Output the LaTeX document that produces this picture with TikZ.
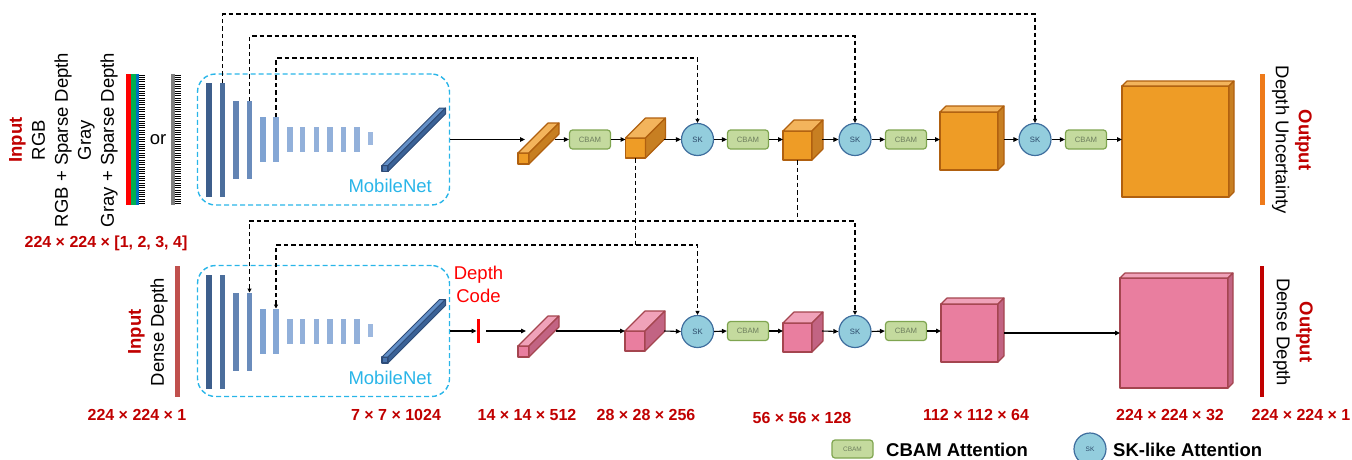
\documentclass[tikz,border=0pt]{standalone}
\usepackage{fontspec}
\setmainfont{Liberation Sans}
\usetikzlibrary{arrows.meta,calc}

\definecolor{orgfront}{HTML}{EE9C26}
\definecolor{orgtop}{HTML}{F3B45C}
\definecolor{orgside}{HTML}{C77F22}
\definecolor{orgline}{HTML}{B0600F}
\definecolor{pnkfront}{HTML}{E97E9F}
\definecolor{pnktop}{HTML}{F0A2B9}
\definecolor{pnkside}{HTML}{C26483}
\definecolor{pnkline}{HTML}{A4454F}
\definecolor{blufront}{HTML}{4A74AD}
\definecolor{blutop}{HTML}{6390C8}
\definecolor{bluside}{HTML}{3B6296}
\definecolor{bluline}{HTML}{2E4C78}
\definecolor{cbamfill}{HTML}{C4DA9E}
\definecolor{cbamline}{HTML}{7FA550}
\definecolor{cbamtext}{HTML}{6E7F5E}
\definecolor{skfill}{HTML}{93CDDD}
\definecolor{skline}{HTML}{3F6E9E}
\definecolor{sktext}{HTML}{2C4A6A}
\definecolor{encblue}{HTML}{29B5E8}
\definecolor{darkred}{HTML}{C00000}
\definecolor{codered}{HTML}{FF0000}
\definecolor{inbar}{HTML}{C0504D}
\definecolor{outorange}{HTML}{EE7A1A}
\definecolor{rgbgreen}{HTML}{00B050}
\definecolor{rgbblue}{HTML}{0070C0}
\definecolor{grayband}{HTML}{808080}
\definecolor{barA}{HTML}{3D5E8C}
\definecolor{barB}{HTML}{4B6E9C}
\definecolor{barC}{HTML}{6384B3}
\definecolor{barD}{HTML}{6A8CBC}
\definecolor{barE}{HTML}{7FA3D2}
\definecolor{barF}{HTML}{85A7D5}
\definecolor{barG}{HTML}{92B0DA}
\definecolor{barH}{HTML}{9DB8DF}

\tikzset{
  fnt/.style={font=\fontsize{#1}{#1}\selectfont},
  facebase/.style={draw, line width=1.1pt, line join=round, inner sep=0pt, outer sep=0pt},
  front org/.style={facebase, fill=orgfront, draw=orgline},
  top org/.style={line width=1.1pt, line join=round, fill=orgtop, draw=orgline},
  side org/.style={line width=1.1pt, line join=round, fill=orgside, draw=orgline},
  front pnk/.style={facebase, fill=pnkfront, draw=pnkline},
  top pnk/.style={line width=1.1pt, line join=round, fill=pnktop, draw=pnkline},
  side pnk/.style={line width=1.1pt, line join=round, fill=pnkside, draw=pnkline},
  front blu/.style={facebase, fill=blufront, draw=bluline},
  top blu/.style={line width=1pt, line join=round, fill=blutop, draw=bluline},
  side blu/.style={line width=1pt, line join=round, fill=bluside, draw=bluline},
  cbam/.style={draw=cbamline, fill=cbamfill, line width=1.2pt, rounded corners=3pt,
    minimum width=41pt, minimum height=19pt, inner sep=0pt, text=cbamtext, fnt=7.7},
  sk/.style={circle, draw=skline, fill=skfill, line width=1.2pt, minimum size=32pt,
    inner sep=0pt, text=sktext, fnt=7.7},
  encbox/.style={draw=encblue, dashed, dash pattern=on 5pt off 3pt, line width=1.4pt,
    rounded corners=18pt, minimum width=252pt, minimum height=131pt, inner sep=0pt},
  encbar/.style={inner sep=0pt, outer sep=0pt},
  flow/.style={draw, line width=1.1pt, -{Triangle[length=5pt,width=4.5pt]}},
  skip/.style={draw, line width=1.1pt, dash pattern=on 4.5pt off 3pt, -{Triangle[length=4pt,width=4pt]}},
  skipline/.style={draw, line width=1.1pt, dash pattern=on 4.5pt off 3pt},
  dimlabel/.style={text=darkred, fnt=16, font=\fontsize{16}{16}\selectfont\bfseries, inner sep=0pt},
  sidetext/.style={align=center, inner sep=0pt, font=\fontsize{18.5}{23}\selectfont},
  legendtext/.style={anchor=west, inner sep=0pt, font=\fontsize{18.5}{18.5}\selectfont\bfseries},
}

% a box seen in perspective: front face node plus top and right faces
\newcommand{\cuboid}[6]{%
  \node[front #6, minimum width=#3pt, minimum height=#4pt] (#1) at (#2) {};
  \filldraw[top #6] (#1.north west) -- ++(#5,-#5) -- ++(#3,0) -- (#1.north east) -- cycle;
  \filldraw[side #6] (#1.north east) -- ++(#5,-#5) -- ++(0,#4) -- (#1.south east) -- cycle;
}

% MobileNet encoder: dashed frame, stack of feature bars and the final prism
\newcommand{\encoder}[2]{%
  \begin{scope}[shift={(0,#2)}]
    \node[encbox] (#1enc) at (323.5,139.5) {};
    \node[encbar, fill=barA, minimum width=6pt, minimum height=114pt] (#1b1) at (209,140) {};
    \node[encbar, fill=barB, minimum width=5pt, minimum height=114pt] (#1b2) at (222.5,140) {};
    \node[encbar, fill=barC, minimum width=5.5pt, minimum height=78pt] (#1b3) at (236,140) {};
    \node[encbar, fill=barD, minimum width=5pt, minimum height=78pt] (#1b4) at (249.5,140) {};
    \node[encbar, fill=barE, minimum width=6pt, minimum height=45pt] (#1b5) at (262.5,139.5) {};
    \node[encbar, fill=barF, minimum width=5.5pt, minimum height=45pt] (#1b6) at (276,139.5) {};
    \node[encbar, fill=barG, minimum width=5.5pt, minimum height=25pt] (#1b7) at (290,139.5) {};
    \node[encbar, fill=barG, minimum width=5.5pt, minimum height=25pt] (#1b8) at (302.5,139.5) {};
    \node[encbar, fill=barG, minimum width=5.5pt, minimum height=25pt] (#1b9) at (316.5,139.5) {};
    \node[encbar, fill=barG, minimum width=5.5pt, minimum height=25pt] (#1b10) at (330,139.5) {};
    \node[encbar, fill=barG, minimum width=5.5pt, minimum height=25pt] (#1b11) at (343.5,139.5) {};
    \node[encbar, fill=barG, minimum width=5.5pt, minimum height=25pt] (#1b12) at (357,139.5) {};
    \node[encbar, fill=barH, minimum width=5pt, minimum height=13pt] (#1b13) at (370.5,138.5) {};
    \cuboid{#1mb}{385,168.5}{6}{6}{57.5}{blu}
    \node[anchor=east, inner sep=0pt, text=encblue, font=\fontsize{18.5}{18.5}\selectfont] (#1mn) at (432,186) {MobileNet};
  \end{scope}
}

\begin{document}
\begin{tikzpicture}[x=1pt, y=-1pt]
\useasboundingbox (0,0) rectangle (1352,459);

% ---------------- inputs ----------------
\node[sidetext, rotate=90] (intop) at (63.5,140)
  {\textcolor{darkred}{\bfseries Input}\\RGB\\RGB + Sparse Depth\\Gray\\Gray + Sparse Depth};
\fill[red] (126,74) rectangle (131,205);
\fill[rgbgreen] (131,74) rectangle (136,205);
\fill[rgbblue] (136,74) rectangle (138.5,205);
\foreach \yy in {75,77.3,...,204} \draw[line width=0.9pt] (138.5,\yy) -- (145,\yy);
\node[inner sep=0pt, font=\fontsize{18.5}{18.5}\selectfont] (ortext) at (158,140) {or};
\fill[grayband] (171,74) rectangle (174.5,205);
\foreach \yy in {75,77.3,...,204} \draw[line width=0.9pt] (174.5,\yy) -- (181,\yy);
\node[dimlabel] (dimin) at (106,243) {224 × 224 × [1, 2, 3, 4]};

\node[sidetext, rotate=90] (inbot) at (148,332)
  {\textcolor{darkred}{\bfseries Input}\\Dense Depth};
\node[fill=inbar, minimum width=5pt, minimum height=131pt, inner sep=0pt] (inbotbar) at (177.5,331.5) {};

% ---------------- encoders ----------------
\encoder{t}{0}
\encoder{b}{191.5}

% ---------------- upper decoder ----------------
\cuboid{p1}{523.5,158.5}{11}{11}{30}{org}
\node[cbam] (cb1) at (590,139.5) {CBAM};
\cuboid{c2}{635.5,148}{20}{20}{20}{org}
\node[sk] (sk1) at (697.5,139.5) {SK};
\node[cbam] (cb2) at (748,139.5) {CBAM};
\cuboid{c3}{797.5,145.5}{29}{29}{11}{org}
\node[sk] (sk2) at (855,139.5) {SK};
\node[cbam] (cb3) at (906,139.5) {CBAM};
\cuboid{c4}{969,141}{58}{58}{6}{org}
\node[sk] (sk3) at (1035,139.5) {SK};
\node[cbam] (cb4) at (1086,139.5) {CBAM};
\cuboid{c5}{1175.5,141.5}{107}{111}{5}{org}

\coordinate (p1in) at (525,139.5);
\coordinate (p1out) at (555,139.5);
\coordinate (c2out) at (664,139.5);
\coordinate (c3out) at (822,139.5);
\coordinate (c4out) at (1004,139.5);
\draw[flow] (tenc.east) -- (p1in);
\draw[flow] (p1out) -- (cb1.west);
\draw[flow] (cb1.east) -- (cb1.east -| c2.west);
\draw[flow] (c2out) -- (sk1.west);
\draw[flow] (sk1.east) -- (cb2.west);
\draw[flow] (cb2.east) -- (cb2.east -| c3.west);
\draw[flow] (c3out) -- (sk2.west);
\draw[flow] (sk2.east) -- (cb3.west);
\draw[flow] (cb3.east) -- (cb3.east -| c4.west);
\draw[flow] (c4out) -- (sk3.west);
\draw[flow] (sk3.east) -- (cb4.west);
\draw[flow] (cb4.east) -- (cb4.east -| c5.west);

\node[fill=outorange, minimum width=5pt, minimum height=131pt, inner sep=0pt] (outtopbar) at (1262.5,139.5) {};
\node[sidetext, rotate=-90] (outtop) at (1292,140)
  {\textcolor{darkred}{\bfseries Output}\\Depth Uncertainty};

% ---------------- lower decoder ----------------
\node[fill=codered, minimum width=3.5pt, minimum height=24pt, inner sep=0pt] (dc) at (478.5,331) {};
\node[align=center, text=codered, inner sep=0pt, font=\fontsize{18.5}{23}\selectfont] (dctext) at (478.5,284.5) {Depth\\Code};
\cuboid{q1}{523.5,351.5}{11}{11}{30}{pnk}
\cuboid{d2}{635,341}{20}{20}{20}{pnk}
\node[sk] (sk4) at (697.5,331.5) {SK};
\node[cbam] (cb5) at (748,331) {CBAM};
\cuboid{d3}{797.5,337.5}{29}{29}{11}{pnk}
\node[sk] (sk5) at (855,331.5) {SK};
\node[cbam] (cb6) at (906,331) {CBAM};
\cuboid{d4}{969.5,333}{57}{58}{6}{pnk}
\cuboid{d5}{1174,333}{108}{110}{5}{pnk}

\coordinate (q1in) at (526,331);
\coordinate (q1out) at (556,331);
\coordinate (d2out) at (664,331);
\coordinate (d3out) at (822,331);
\coordinate (d4out) at (1004,333);
\draw[flow] (benc.east) -- (benc.east -| dc.west);
\draw[flow] (dc.east) ++(6,0) -- (q1in);
\draw[flow] (q1out) -- (q1out -| d2.west);
\draw[flow] (d2out) -- (sk4.west);
\draw[flow] (sk4.east) -- (cb5.west);
\draw[flow] (cb5.east) -- (cb5.east -| d3.west);
\draw[flow] (d3out) -- (sk5.west);
\draw[flow] (sk5.east) -- (cb6.west);
\draw[flow] (cb6.east) -- (cb6.east -| d4.west);
\draw[flow] (d4out) -- (d4out -| d5.west);

\node[fill=darkred, minimum width=4.5pt, minimum height=131pt, inner sep=0pt] (outbotbar) at (1262,331.5) {};
\node[sidetext, rotate=-90] (outbot) at (1293,332)
  {\textcolor{darkred}{\bfseries Output}\\Dense Depth};

% ---------------- skip connections ----------------
\coordinate (h1) at (0,14);
\coordinate (h2) at (0,36);
\coordinate (h3) at (0,58);
\coordinate (h4) at (0,221);
\coordinate (h5) at (0,245);
\draw[skip] (tb2.north) |- (h1 -| sk3.north) -- (sk3.north);
\draw[skip] (tb4.north) |- (h2 -| sk2.north) -- (sk2.north);
\draw[skip] (tb6.north) |- (h3 -| sk1.north) -- (sk1.north);
\draw[skipline] (c2.south) -- (c2.south |- h5);
\draw[skip, {Triangle[length=4pt,width=4pt]}-{Triangle[length=4pt,width=4pt]}] (bb6.north) |- (h5 -| sk4.north) -- (sk4.north);
\draw[skipline] (c3.south) -- (c3.south |- h4);
\draw[skip, {Triangle[length=4pt,width=4pt]}-{Triangle[length=4pt,width=4pt]}] (bb4.north) |- (h4 -| sk5.north) -- (sk5.north);

% ---------------- tensor sizes ----------------
\node[dimlabel] (s1) at (137,415) {224 × 224 × 1};
\node[dimlabel] (s2) at (396,415) {7 × 7 × 1024};
\node[dimlabel] (s3) at (527,415) {14 × 14 × 512};
\node[dimlabel] (s4) at (646,415) {28 × 28 × 256};
\node[dimlabel] (s5) at (802,418) {56 × 56 × 128};
\node[dimlabel] (s6) at (976,415) {112 × 112 × 64};
\node[dimlabel] (s7) at (1170,415) {224 × 224 × 32};
\node[dimlabel] (s8) at (1301,415) {224 × 224 × 1};

% ---------------- legend ----------------
\node[cbam, minimum height=18pt, font=\fontsize{6.5}{6.5}\selectfont] (lgcbam) at (852.5,449) {CBAM};
\node[legendtext] (lgcbamtxt) at (886,450) {CBAM Attention};
\node[sk, font=\fontsize{6.5}{6.5}\selectfont] (lgsk) at (1090,449) {SK};
\node[legendtext] (lgsktxt) at (1113,450) {SK-like Attention};
\end{tikzpicture}
\end{document}
